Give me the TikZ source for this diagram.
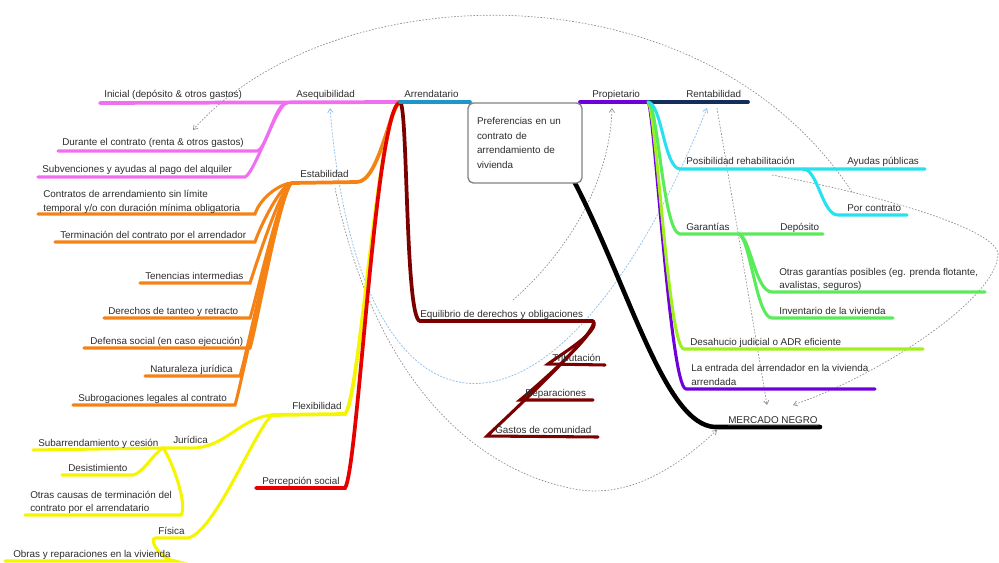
\documentclass[tikz,border=0pt]{standalone}
\usepackage{fontspec}
\setmainfont{Liberation Sans}
\usetikzlibrary{arrows.meta}
\definecolor{pinkc}{RGB}{240,110,240}
\definecolor{orangec}{RGB}{245,130,20}
\definecolor{yellowc}{RGB}{245,245,0}
\definecolor{redc}{RGB}{230,0,0}
\definecolor{maroonc}{RGB}{125,0,0}
\definecolor{bluec}{RGB}{30,150,200}
\definecolor{purplec}{RGB}{110,0,220}
\definecolor{navyc}{RGB}{20,45,90}
\definecolor{cyanc}{RGB}{40,225,240}
\definecolor{greenc}{RGB}{90,235,90}
\definecolor{limec}{RGB}{160,240,30}
\definecolor{txtgray}{RGB}{45,45,45}
\definecolor{relgray}{RGB}{140,140,140}
\definecolor{relblue}{RGB}{150,195,235}
\definecolor{boxgray}{RGB}{130,130,130}
\newcommand\lbfont{\fontsize{7.4}{9}\selectfont}
\tikzset{
  lbl/.style={anchor=base west, inner sep=0pt, font=\lbfont, text=txtgray},
  br/.style={line width=2.3pt, line cap=round},
  mainbr/.style={line width=2.8pt, line cap=round},
  rel/.style={draw=relgray, line width=0.5pt, dash pattern=on 1.2pt off 1.2pt, -{Straight Barb[length=3pt,width=4pt]}},
  relb/.style={draw=relblue, line width=0.6pt, dash pattern=on 1.5pt off 1pt, {Straight Barb[length=3pt,width=4pt]}-{Straight Barb[length=3pt,width=4pt]}},
  centralbox/.style={draw=boxgray, line width=1pt, fill=white, rounded corners=4pt, minimum width=85.5pt, minimum height=60pt, text width=72pt, align=left, inner sep=0pt, font=\fontsize{7.4}{11.2}\selectfont, text=txtgray}
}
\begin{document}
\begin{tikzpicture}[x=0.75pt,y=-0.75pt]
\useasboundingbox (0,0) rectangle (999,563);
% ---------- hubs and junctions
\coordinate (HL) at (400,102);
\coordinate (HR) at (648,102);
\coordinate (Pj) at (287,103);
\coordinate (Oj) at (292,183);
\coordinate (Yj) at (272,415);
\coordinate (Jj) at (163,448);
\coordinate (Fj) at (155,538);
\coordinate (Ej) at (593,321);
\coordinate (Cj) at (803,169);
\coordinate (Gj) at (738,234);
\coordinate (BoxSE) at (575,183);
% ---------- relationship lines
\coordinate (rPor) at (852,192); \coordinate (rDur) at (193,130);
\draw[rel] (rPor) .. controls (700,-40) and (330,-25) .. (rDur);
\coordinate (rPos) at (772,175); \coordinate (rMerA) at (793,405);
\draw[rel] (rPos) .. controls (880,195) and (1000,230) .. (998,255) .. controls (995,300) and (880,375) .. (rMerA);
\coordinate (rRent) at (717,108); \coordinate (rMerB) at (767,405);
\draw[rel] (rRent) -- (rMerB);
\coordinate (rAseq) at (330,108); \coordinate (rRentB) at (707,108);
\draw[relb] (rAseq) .. controls (360,475) and (560,475) .. (rRentB);
\coordinate (rEst) at (335,188); \coordinate (rMerC) at (717,430);
\draw[rel] (rEst) .. controls (370,360) and (460,470) .. (580,490) .. controls (640,498) and (690,455) .. (rMerC);
\coordinate (rEq) at (513,300); \coordinate (rProp) at (612,108);
\draw[rel] (rEq) .. controls (570,250) and (610,180) .. (rProp);
% ---------- pink: Asequibilidad
\coordinate (iniE) at (100,103);
\draw[mainbr,pinkc] (HL) -- (iniE);
\coordinate (durS) at (257,151); \coordinate (durE) at (58,151);
\draw[br,pinkc] (Pj) .. controls +(-12,0) and +(10,-2) .. (durS) -- (durE);
\coordinate (subS) at (245,177); \coordinate (subE) at (38,177);
\draw[br,pinkc] (Pj) .. controls +(-10,0) and +(10,-4) .. (subS) -- (subE);
% ---------- orange: Estabilidad
\coordinate (estK) at (357,182);
\draw[mainbr,orangec] (HL) .. controls +(-10,4) and +(22,0) .. (estK) -- (Oj);
\foreach \ys/\xs/\xe [count=\i] in {214/255/38, 242/255/55, 283/250/140, 318/250/104, 348/250/84, 376/240/145, 405/235/73}{
  \coordinate (oS\i) at (\xs,\ys);
  \coordinate (oE\i) at (\xe,\ys);
  \draw[br,orangec] (Oj) .. controls +(-10,0) and +(6,-18) .. (oS\i) -- (oE\i);
}
% ---------- yellow: Flexibilidad
\coordinate (flK) at (345,414);
\draw[mainbr,yellowc] (HL) .. controls (378,110) and (360,400) .. (flK) -- (Yj);
\coordinate (jurK) at (192,448);
\draw[br,yellowc] (Yj) .. controls (240,418) and (225,448) .. (jurK) -- (Jj);
\coordinate (saE) at (33,450);
\draw[br,yellowc] (Jj) -- (saE);
\coordinate (desS) at (133,475); \coordinate (desE) at (62,475);
\draw[br,yellowc] (Jj) .. controls (155,452) and (142,474) .. (desS) -- (desE);
\coordinate (otS) at (181,515); \coordinate (otE) at (25,515);
\draw[br,yellowc] (Jj) .. controls (172,460) and (188,505) .. (otS) -- (otE);
\coordinate (fisK) at (188,538);
\draw[br,yellowc] (Yj) .. controls (255,430) and (215,532) .. (fisK) -- (Fj);
\coordinate (obS) at (175,561); \coordinate (obE) at (5,561);
\draw[br,yellowc] (Fj) .. controls (148,540) and (162,560) .. (obS) -- (obE);
% ---------- red: Percepcion social
\coordinate (perK) at (345,488); \coordinate (perE) at (256,488);
\draw[mainbr,redc] (HL) .. controls (375,110) and (358,470) .. (perK) -- (perE);
% ---------- maroon: Equilibrio
\coordinate (eqK) at (420,321);
\draw[mainbr,maroonc] (HL) .. controls (408,104) and (405,320) .. (eqK) -- (Ej);
\coordinate (trS) at (548,364); \coordinate (trE) at (605,365);
\draw[br,maroonc] (Ej) .. controls (602,330) and (560,355) .. (trS) -- (trE);
\coordinate (reS) at (520,400); \coordinate (reE) at (593,400);
\draw[br,maroonc] (Ej) .. controls (602,330) and (530,392) .. (reS) -- (reE);
\coordinate (gaS) at (487,436); \coordinate (gaE) at (598,437);
\draw[br,maroonc] (Ej) .. controls (602,330) and (495,428) .. (gaS) -- (gaE);
% ---------- top lines
\coordinate (arrE) at (470,102);
\draw[mainbr,bluec] (HL) -- (arrE);
\coordinate (propS) at (580,102);
\draw[mainbr,purplec] (propS) -- (HR);
\coordinate (rentE) at (748,102);
\draw[mainbr,navyc] (HR) -- (rentE);
% ---------- right side
\coordinate (purK) at (686,389); \coordinate (purE) at (875,389);
\draw[br,purplec] (HR) .. controls (654,104) and (670,388) .. (purK) -- (purE);
\coordinate (limK) at (684,349); \coordinate (limE) at (923,349);
\draw[br,limec] (HR) .. controls (656,104) and (668,348) .. (limK) -- (limE);
\coordinate (garK) at (680,234); \coordinate (garE) at (823,234);
\draw[br,greenc] (HR) .. controls (658,104) and (663,233) .. (garK) -- (garE);
\coordinate (ogS) at (772,292); \coordinate (ogE) at (985,292);
\draw[br,greenc] (Gj) .. controls (750,234) and (755,292) .. (ogS) -- (ogE);
\coordinate (invS) at (772,318); \coordinate (invE) at (893,318);
\draw[br,greenc] (Gj) .. controls (750,234) and (756,318) .. (invS) -- (invE);
\coordinate (cyK) at (680,169); \coordinate (cyE) at (925,169);
\draw[br,cyanc] (HR) .. controls (662,104) and (664,168) .. (cyK) -- (cyE);
\coordinate (pcS) at (838,215); \coordinate (pcE) at (907,215);
\draw[br,cyanc] (Cj) .. controls (818,169) and (822,215) .. (pcS) -- (pcE);
% ---------- black: mercado negro
\coordinate (mnK) at (715,427); \coordinate (mnE) at (820,427);
\draw[line width=3.4pt, line cap=round] (BoxSE) .. controls (630,290) and (665,425) .. (mnK) -- (mnE);
% ---------- central box
\node[centralbox] (central) at (525,143) {Preferencias en un\\contrato de\\arrendamiento de\\vivienda};
% ---------- labels
\node[lbl] (tAseq) at (296,98) {Asequibilidad};
\node[lbl] (tIni) at (104,98) {Inicial (depósito \& otros gastos)};
\node[lbl] (tDur) at (62,146) {Durante el contrato (renta \& otros gastos)};
\node[lbl] (tSub) at (42,172) {Subvenciones y ayudas al pago del alquiler};
\node[lbl] (tEst) at (300,177) {Estabilidad};
\node[lbl] (tCon1) at (43,198) {Contratos de arrendamiento sin límite};
\node[lbl] (tCon2) at (43,211) {temporal y/o con duración mínima obligatoria};
\node[lbl] (tTer) at (60,238) {Terminación del contrato por el arrendador};
\node[lbl] (tTen) at (145,279) {Tenencias intermedias};
\node[lbl] (tDer) at (108,314) {Derechos de tanteo y retracto};
\node[lbl] (tDef) at (90,344) {Defensa social (en caso ejecución)};
\node[lbl] (tNat) at (150,372) {Naturaleza jurídica};
\node[lbl] (tSubr) at (78,401) {Subrogaciones legales al contrato};
\node[lbl] (tFlex) at (292,409) {Flexibilidad};
\node[lbl] (tJur) at (173,443) {Jurídica};
\node[lbl] (tSubA) at (38,446) {Subarrendamiento y cesión};
\node[lbl] (tDes) at (68,471) {Desistimiento};
\node[lbl] (tOtr1) at (30,498) {Otras causas de terminación del};
\node[lbl] (tOtr2) at (30,511) {contrato por el arrendatario};
\node[lbl] (tFis) at (158,534) {Física};
\node[lbl] (tObr) at (13,557) {Obras y reparaciones en la vivienda};
\node[lbl] (tPer) at (262,484) {Percepción social};
\node[lbl] (tArr) at (404,98) {Arrendatario};
\node[lbl] (tEq) at (420,317) {Equilibrio de derechos y obligaciones};
\node[lbl] (tTri) at (552,361) {Tributación};
\node[lbl] (tRep) at (525,396) {Reparaciones};
\node[lbl] (tGas) at (495,433) {Gastos de comunidad};
\node[lbl] (tProp) at (592,98) {Propietario};
\node[lbl] (tRent) at (686,98) {Rentabilidad};
\node[lbl] (tPos) at (686,165) {Posibilidad rehabilitación};
\node[lbl] (tAyu) at (847,165) {Ayudas públicas};
\node[lbl] (tPor) at (847,211) {Por contrato};
\node[lbl] (tGar) at (686,230) {Garantías};
\node[lbl] (tDep) at (780,230) {Depósito};
\node[lbl] (tOg1) at (779,275) {Otras garantías posibles (eg. prenda flotante,};
\node[lbl] (tOg2) at (779,288) {avalistas, seguros)};
\node[lbl] (tInv) at (779,314) {Inventario de la vivienda};
\node[lbl] (tDesa) at (690,345) {Desahucio judicial o ADR eficiente};
\node[lbl] (tEnt1) at (691,371) {La entrada del arrendador en la vivienda};
\node[lbl] (tEnt2) at (691,385) {arrendada};
\node[lbl] (tMer) at (728,423) {\underline{MERCADO NEGRO}};
\end{tikzpicture}
\end{document}
